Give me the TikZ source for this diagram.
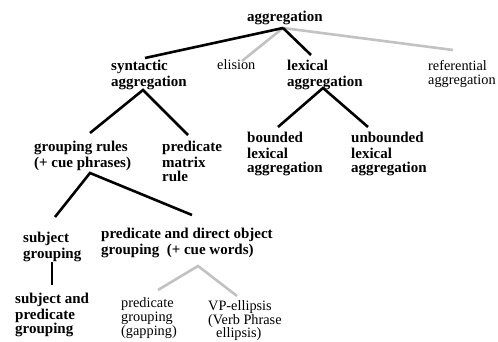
\documentclass[tikz,border=0pt]{standalone}
\usepackage{fontspec}
\setmainfont{Liberation Serif}
\newfontfamily\bsf{Liberation Serif}
\definecolor{edgegray}{HTML}{C2C2C2}
\tikzset{
  lbl/.style={anchor=north west, inner sep=0pt, align=left, yshift=10pt},
  bl/.style={lbl, font=\bsf\bfseries\fontsize{15}{14.5}\selectfont},
  rl/.style={lbl, font=\fontsize{14.3}{14}\selectfont},
  blk/.style={line width=2.6pt, black},
  gry/.style={line width=2.6pt, edgegray},
}
\begin{document}
\begin{tikzpicture}[x=1pt,y=-1pt]
\useasboundingbox (0,0) rectangle (498,342);
% nodes
\node[bl] (root) at (247,21) {\strut aggregation};
\node[bl] (syn) at (111,70) {\strut syntactic\\aggregation};
\node[rl] (eli) at (217,69) {\strut elision};
\node[bl] (lex) at (287,70) {\strut lexical\\aggregation};
\node[rl] (ref) at (428,70) {\strut referential\\aggregation};
\node[bl] (grp) at (34,151) {\strut grouping rules\\(+ cue phrases)};
\node[bl] (pmr) at (162,151) {\strut predicate\\matrix\\rule};
\node[bl] (bnd) at (247,142) {\strut bounded\\lexical\\aggregation};
\node[bl] (unb) at (351,142) {\strut unbounded\\lexical\\aggregation};
\node[bl] (sbj) at (23,242) {\strut subject\\grouping};
\node[bl] (pdo) at (101,238) {\strut predicate and direct object\\grouping~~(+ cue words)};
\node[bl, font=\bsf\bfseries\fontsize{15}{13.5}\selectfont] (sap) at (15,303) {\strut subject and\\predicate\\grouping};
\node[rl, font=\fontsize{14.3}{14}\selectfont] (pgg) at (121,307) {\strut predicate\\grouping\\(gapping)};
\node[rl, font=\fontsize{14.3}{13}\selectfont] (vpe) at (208,310) {\strut VP-ellipsis\\(Verb Phrase\\\hspace*{8pt}ellipsis)};
% connector end points
\coordinate (root-s) at (283,28);
\coordinate (syn-n) at (145,58);
\coordinate (eli-n) at (242,61);
\coordinate (lex-n) at (311,55);
\coordinate (ref-n) at (453,50);
\coordinate (syn-s) at (143,90);
\coordinate (grp-n) at (90,133);
\coordinate (pmr-n) at (188,135);
\coordinate (lex-s) at (323,88);
\coordinate (bnd-n) at (278,127);
\coordinate (unb-n) at (368,127);
\coordinate (grp-s) at (90,173);
\coordinate (sbj-n) at (55,217);
\coordinate (pdo-n) at (192,215);
\coordinate (sbj-s) at (52,262);
\coordinate (sap-n) at (52,285);
\coordinate (pdo-s) at (198,266);
\coordinate (pgg-n) at (158,290);
\coordinate (vpe-n) at (237,296);
% connectors
\draw[gry] (root-s) -- (eli-n);
\draw[gry] (root-s) -- (ref-n);
\draw[blk] (root-s) -- (syn-n);
\draw[blk] (root-s) -- (lex-n);
\draw[blk] (grp-n) -- (syn-s) -- (pmr-n);
\draw[blk] (bnd-n) -- (lex-s) -- (unb-n);
\draw[blk] (sbj-n) -- (grp-s) -- (pdo-n);
\draw[blk] (sbj-s) -- (sap-n);
\draw[gry] (pgg-n) -- (pdo-s) -- (vpe-n);
\end{tikzpicture}
\end{document}
